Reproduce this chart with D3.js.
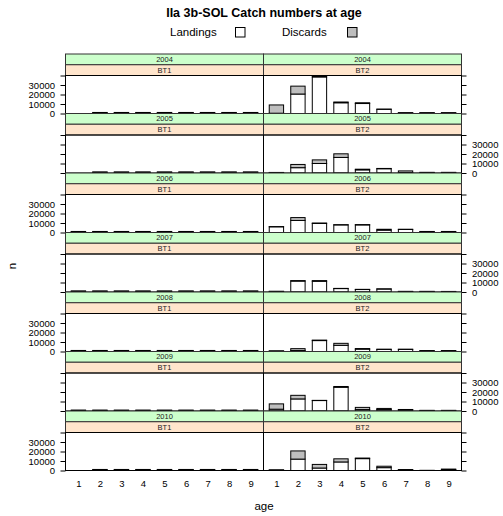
<!DOCTYPE html>
<html>
<head>
<meta charset="utf-8">
<script src="https://cdn.jsdelivr.net/npm/d3@7"></script>
<style>
  body { margin: 0; background: #fff; }
  svg { font-family: "Liberation Sans", Arial, sans-serif; }
</style>
</head>
<body>
<div id="container"></div>
<script>
// chart data
const years = [2004, 2005, 2006, 2007, 2008, 2009, 2010];
const gears = ['BT1', 'BT2'];
const ages = [1, 2, 3, 4, 5, 6, 7, 8, 9];
const seriesNames = ['Landings', 'Discards'];
const yTicks = [0, 10000, 20000, 30000, 40000];

// BT1: only small catches (null = no bar)
const landingsBT1 = [
  [null, 800, 800, 800, 800, 800, 800, 800, 800],
  [null, 800, 800, 800, 800, 800, 800, 800, 800],
  [800, 800, 800, 800, 800, 800, 800, 800, 800],
  [800, 800, 800, 800, 800, 800, 800, 800, 800],
  [800, 800, 800, 800, 800, 800, 800, 800, 800],
  [300, 300, 300, 300, 300, 300, 300, 300, 300],
  [null, 800, 800, 800, 800, 800, 800, 800, 800]
];
const discardsBT1 = [
  [null, 300, 300, 300, 300, 300, 300, 300, 300],
  [null, 300, 300, 300, 300, 300, 300, 300, 300],
  [300, 300, 300, 300, 300, 300, 300, 300, 300],
  [300, 300, 300, 300, 300, 300, 300, 300, 300],
  [300, 300, 300, 300, 300, 300, 300, 300, 300],
  [700, 700, 700, 700, 700, 700, 700, 700, 700],
  [null, 300, 300, 300, 300, 300, 300, 300, 300]
];
const landingsBT2 = [
  [300, 20500, 38500, 11300, 10500, 4400, 600, 600, 600],
  [300, 5600, 10000, 16400, 3300, 4500, 500, 300, 300],
  [6000, 12700, 9500, 8000, 8000, 2500, 3200, 800, 600],
  [500, 11500, 11300, 3600, 2600, 3100, 400, 400, 300],
  [400, 1000, 11500, 6500, 2500, 2200, 2200, 600, 600],
  [1900, 12700, 11000, 25000, 1500, 1500, 1200, 400, 400],
  [400, 12000, 2600, 9000, 12500, 3000, 600, 200, 1000]
];
const discardsBT2 = [
  [8700, 8300, 600, 800, 800, 200, 300, 300, 300],
  [300, 3400, 3800, 3800, 700, 300, 1700, 400, 400],
  [200, 3000, 500, 200, 300, 900, 200, 300, 500],
  [300, 500, 700, 200, 200, 200, 300, 300, 300],
  [300, 2000, 500, 2100, 600, 200, 200, 400, 400],
  [5600, 3800, 200, 800, 2300, 1200, 400, 300, 300],
  [300, 8600, 3800, 3300, 600, 1500, 400, 0, 500]
];

const landings = { BT1: landingsBT1, BT2: landingsBT2 };
const discards = { BT1: discardsBT1, BT2: discardsBT2 };

const width = 503;
const height = 516;
const fills = ['#ffffff', '#bebebe'];
const stripColors = ['#ccffcc', '#ffe5cc'];
const stripH = 10.75;

const svg = d3.select('#container')
  .append('svg')
  .attr('width', width)
  .attr('height', height);

// column and row placement
const colX = d3.scaleLinear().domain([0, 2]).range([65.5, 461.5]);
const rowY = d3.scaleLinear().domain([0, years.length]).range([54, 470.5]);

// title + legend
svg.append('text')
  .attr('x', 264).attr('y', 17)
  .attr('text-anchor', 'middle')
  .attr('font-size', 12.5).attr('font-weight', 'bold')
  .text('IIa 3b-SOL Catch numbers at age');

const legendX = [170, 282];
seriesNames.forEach((name, i) => {
  svg.append('text')
    .attr('x', legendX[i]).attr('y', 36)
    .attr('font-size', 11.5)
    .text(name);
  svg.append('rect')
    .attr('x', legendX[i] + 65.5).attr('y', 27.5)
    .attr('width', 9.5).attr('height', 9.5)
    .attr('fill', fills[i])
    .attr('stroke', '#000').attr('stroke-width', 1);
});

years.forEach((year, r) => {
  const top = rowY(r);
  const bottom = rowY(r + 1);
  const panelTop = top + 2 * stripH;
  const y = d3.scaleLinear().domain([0, 40000]).range([bottom, panelTop]);

  gears.forEach((gear, c) => {
    const x0 = colX(c);
    const x1 = colX(c + 1);
    const x = d3.scaleLinear().domain([0.4, 9.6]).range([x0, x1]);
    const barW = (x(2) - x(1)) * 2 / 3;
    const g = svg.append('g');

    // strips: year on top, gear below
    [String(year), gear].forEach((lab, s) => {
      g.append('rect')
        .attr('x', x0).attr('y', top + s * stripH)
        .attr('width', x1 - x0).attr('height', stripH)
        .attr('fill', stripColors[s])
        .attr('stroke', '#333').attr('stroke-width', 1);
      g.append('text')
        .attr('x', (x0 + x1) / 2).attr('y', top + s * stripH + stripH / 2 + 2.6)
        .attr('text-anchor', 'middle')
        .attr('font-size', 7.5).attr('fill', '#222')
        .text(lab);
    });

    // stacked bars
    const rows = ages.map((a, i) => {
      const l = landings[gear][r][i];
      const d = discards[gear][r][i];
      return { age: a, l: l, d: d };
    }).filter(d => d.l !== null);

    rows.forEach(d => {
      const parts = [[0, d.l], [d.l, d.l + d.d]];
      parts.forEach((p, k) => {
        g.append('rect')
          .attr('x', x(d.age) - barW / 2)
          .attr('y', y(p[1]))
          .attr('width', barW)
          .attr('height', Math.max(0, y(p[0]) - y(p[1])))
          .attr('fill', fills[k])
          .attr('stroke', '#000').attr('stroke-width', 1);
      });
    });

    // panel border
    g.append('rect')
      .attr('x', x0).attr('y', panelTop)
      .attr('width', x1 - x0).attr('height', bottom - panelTop)
      .attr('fill', 'none')
      .attr('stroke', '#000').attr('stroke-width', 1);

    // y axis ticks, labels alternate left/right by row
    const labelled = (r % 2 === 0) ? 0 : 1;
    if (c === 0) {
      const ax = d3.axisLeft(y).tickValues(yTicks).tickSize(5).tickPadding(5.5)
        .tickFormat(v => (labelled === 0 && v !== 40000) ? v : '');
      const ag = g.append('g').attr('transform', `translate(${x0},0)`).call(ax);
      ag.select('.domain').remove();
      ag.selectAll('text').attr('font-size', 9.5).attr('font-family', null).attr('fill', '#000');
    } else {
      const ax = d3.axisRight(y).tickValues(yTicks).tickSize(5).tickPadding(5.5)
        .tickFormat(v => (labelled === 1 && v !== 40000) ? v : '');
      const ag = g.append('g').attr('transform', `translate(${x1},0)`).call(ax);
      ag.select('.domain').remove();
      ag.selectAll('text').attr('font-size', 9.5).attr('font-family', null).attr('fill', '#000');
    }

    // x axis labels under the last row
    if (r === years.length - 1) {
      const ax = d3.axisBottom(x).tickValues(ages).tickSize(0).tickPadding(9.3);
      const ag = g.append('g').attr('transform', `translate(0,${bottom})`).call(ax);
      ag.select('.domain').remove();
      ag.selectAll('text').attr('font-size', 9.5).attr('font-family', null).attr('fill', '#000');
    }
  });
});

// axis titles
svg.append('text')
  .attr('x', 264).attr('y', 510)
  .attr('text-anchor', 'middle')
  .attr('font-size', 11.5)
  .text('age');

svg.append('text')
  .attr('transform', 'translate(16,266) rotate(-90)')
  .attr('text-anchor', 'middle')
  .attr('font-size', 11.5)
  .text('n');
</script>
</body>
</html>
